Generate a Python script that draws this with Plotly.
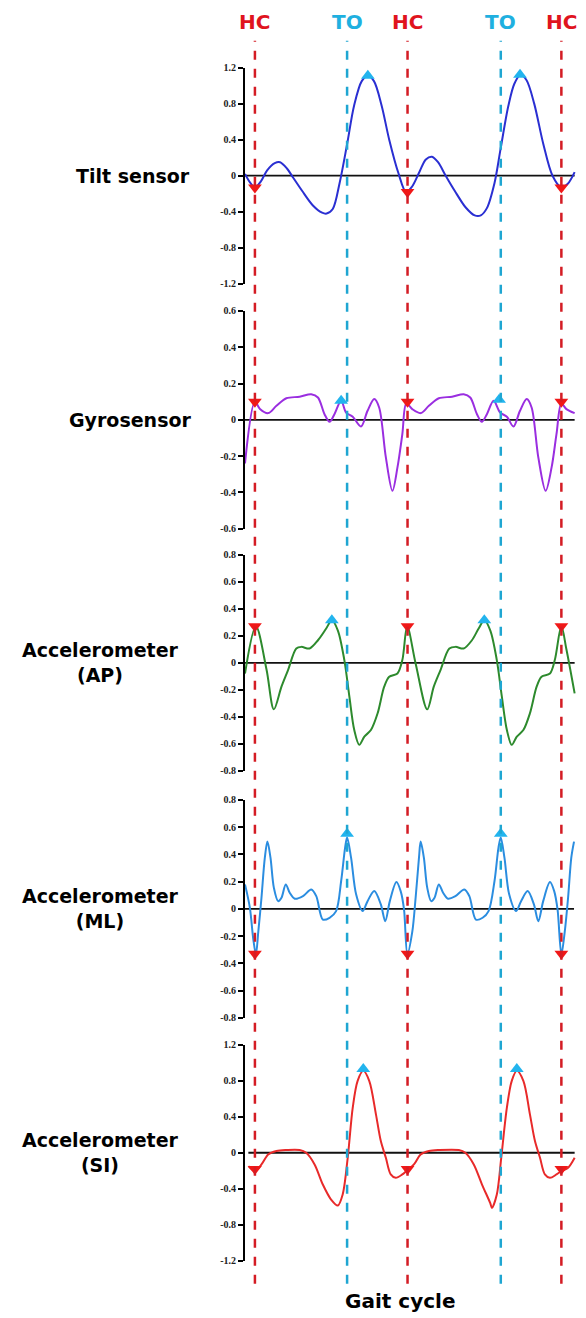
import plotly.graph_objects as go

# ---------------- data ----------------
hc_times = [0, 100, 200.8]
to_times = [60.4, 161.1]

tilt_x = [-6.5, -3, 0, 4, 8, 13, 16.5, 21, 25, 31, 38, 44, 47, 51, 55.5, 60.4, 65, 70, 74, 78, 83, 88, 94, 99,
          103, 108, 112, 116, 120, 125, 131, 138, 144, 148, 152, 157, 161, 166, 170, 174, 178, 183, 189, 195,
          200.8, 205, 209.5]
tilt_y = [0.02, -0.08, -0.13, -0.06, 0.06, 0.14, 0.15, 0.08, -0.02, -0.17, -0.33, -0.41, -0.42, -0.37, -0.08,
          0.35, 0.78, 1.05, 1.11, 1.05, 0.78, 0.40, 0.03, -0.18,
          -0.12, 0.05, 0.18, 0.21, 0.15, 0.0, -0.17, -0.35, -0.44, -0.44, -0.36, -0.08, 0.30, 0.77, 1.02, 1.12,
          1.06, 0.80, 0.35, 0.0, -0.13, -0.09, 0.04]

gyro_x = [-6.5, 0, 3.3, 8.7, 14.1, 20.6, 29.3, 36.9, 41.3, 45.6, 48.9, 52.1, 56.5, 59.7, 64.1, 69.5, 73.8,
          78.2, 81.4, 85.8, 90.1, 93.4, 96.6, 99.2, 103.1, 108.6, 114.0, 120.5, 129.2, 136.8, 141.1, 145.5,
          148.7, 152.0, 156.4, 160.7, 165.1, 169.4, 173.7, 178.1, 181.3, 185.7, 190.5, 194.4, 197.6, 200.8,
          204.1, 209.5]
gyro_y = [-0.24, 0.10, 0.06, 0.037, 0.077, 0.119, 0.127, 0.141, 0.123, 0.031, -0.011, 0.031, 0.105, 0.040,
          0.017, -0.037, 0.050, 0.114, 0.068, -0.207, -0.391, -0.262, -0.079, 0.09, 0.059, 0.037, 0.077,
          0.119, 0.127, 0.141, 0.123, 0.031, -0.011, 0.031, 0.105, 0.040, 0.017, -0.037, 0.050, 0.114, 0.068,
          -0.207, -0.391, -0.262, -0.079, 0.09, 0.059, 0.037]

ap_x = [-6.5, 0.65, 7.6, 12.4, 17.4, 21.7, 27.1, 30.4, 35.8, 41.3, 46.7, 50.4, 54.3, 58.6, 61.9, 65.1, 68.4,
        71.7, 76.0, 80.4, 84.7, 88.0, 93.4, 96.6, 99.8, 105.3, 112.9, 117.2, 121.6, 127.4, 131.4, 136.8,
        142.2, 146.6, 150.3, 154.2, 158.5, 161.8, 165.1, 168.3, 171.6, 175.9, 180.2, 184.6, 187.8, 193.3,
        196.5, 200.8, 204.1, 209.5]
ap_y = [-0.08, 0.27, -0.05, -0.345, -0.177, -0.054, 0.106, 0.118, 0.106, 0.167, 0.254, 0.315, 0.241, 0.020,
        -0.251, -0.498, -0.608, -0.547, -0.498, -0.374, -0.177, -0.103, -0.079, 0.02, 0.27, -0.005, -0.345,
        -0.177, -0.054, 0.106, 0.118, 0.106, 0.167, 0.254, 0.315, 0.241, 0.020, -0.251, -0.498, -0.608,
        -0.547, -0.498, -0.374, -0.177, -0.103, -0.079, 0.02, 0.27, 0.10, -0.227]

ml_x = [-6.5, -3.3, -1.1, 0.65, 2.2, 4.3, 6.5, 8.2, 10.2, 12.4, 15.2, 17.4, 20.2, 22.8, 26.1, 31.5, 36.9,
        40.2, 44.5, 48.9, 53.2, 56.5, 59.1, 60.4, 63.0, 66.3, 70.6, 73.8, 78.2, 82.5, 85.4, 88.4, 92.7,
        95.5, 97.7, 99.9, 103.1, 105.3, 107.5, 108.6, 110.7, 112.9, 115.5, 117.7, 120.5, 123.3, 126.6,
        131.4, 137.2, 140.5, 144.8, 149.2, 153.1, 157.0, 159.6, 161.1, 163.5, 166.6, 171.1, 174.4, 178.7,
        182.8, 185.7, 188.9, 193.3, 196.1, 198.3, 200.8, 203.0, 205.2, 207.3, 209.1]
ml_y = [0.179, 0.007, -0.22, -0.335, -0.17, 0.081, 0.375, 0.493, 0.375, 0.155, 0.056, 0.081, 0.179, 0.118,
        0.074, 0.093, 0.142, 0.093, -0.079, -0.066, -0.017, 0.204, 0.449, 0.523, 0.375, 0.106, -0.017, 0.056,
        0.130, 0.032, -0.091, 0.056, 0.196, 0.130, -0.005, -0.335, -0.17, 0.081, 0.375, 0.493, 0.375, 0.155,
        0.056, 0.081, 0.179, 0.118, 0.074, 0.093, 0.142, 0.093, -0.079, -0.066, -0.017, 0.204, 0.449, 0.523,
        0.375, 0.106, -0.017, 0.056, 0.130, 0.032, -0.091, 0.056, 0.196, 0.130, -0.005, -0.335, -0.17,
        0.081, 0.375, 0.493]

si_x = [-4.3, 0, 4.3, 8.7, 14.1, 20.6, 29.3, 33.6, 39.1, 44.5, 49.9, 54.3, 57.5, 60.8, 64.1, 67.3, 71.0, 74.9,
        79.3, 82.5, 85.8, 89.0, 92.3, 96.6, 99.2, 104.2, 108.6, 114.0, 120.5, 133.6, 137.9, 143.4, 148.8,
        154.2, 155.3, 158.5, 161.4, 165.1, 168.3, 171.6, 175.9, 180.2, 183.5, 186.8, 190.0, 193.3, 197.6,
        200.8, 205.2, 209.5]
si_y = [-0.149, -0.204, -0.130, -0.019, 0.019, 0.030, 0.030, 0.0, -0.130, -0.353, -0.520, -0.587, -0.464,
        -0.056, 0.501, 0.799, 0.910, 0.799, 0.427, 0.130, -0.056, -0.241, -0.279, -0.241, -0.204, -0.130,
        -0.019, 0.019, 0.030, 0.030, 0.0, -0.130, -0.353, -0.560, -0.613, -0.464, -0.056, 0.501, 0.799, 0.910,
        0.799, 0.427, 0.130, -0.056, -0.241, -0.279, -0.241, -0.204, -0.167, -0.056]

# event markers (value on curve at HC; peak location/value near TO)
tilt_hc = [-0.13, -0.18, -0.13]
tilt_to = ([74, 173.7], [1.11, 1.12])
gyro_hc = [0.10, 0.10, 0.10]
gyro_to = ([56.5, 160.0], [0.105, 0.11])
ap_hc = [0.27, 0.27, 0.27]
ap_to = ([50.4, 150.3], [0.315, 0.315])
ml_hc = [-0.33, -0.33, -0.33]
ml_to = ([60.4, 161.1], [0.55, 0.55])
si_hc = [-0.18, -0.18, -0.18]
si_to = ([71.0, 171.6], [0.93, 0.93])

panels = [
    dict(name="Tilt sensor", x=tilt_x, y=tilt_y, hc=tilt_hc, to=tilt_to, color="#2a2fd2",
         ticks=[1.2, 0.8, 0.4, 0, -0.4, -0.8, -1.2], lim=1.2),
    dict(name="Gyrosensor", x=gyro_x, y=gyro_y, hc=gyro_hc, to=gyro_to, color="#9a2ee0",
         ticks=[0.6, 0.4, 0.2, 0, -0.2, -0.4, -0.6], lim=0.6),
    dict(name="Accelerometer<br>(AP)", x=ap_x, y=ap_y, hc=ap_hc, to=ap_to, color="#2d8a2d",
         ticks=[0.8, 0.6, 0.4, 0.2, 0, -0.2, -0.4, -0.6, -0.8], lim=0.8),
    dict(name="Accelerometer<br>(ML)", x=ml_x, y=ml_y, hc=ml_hc, to=ml_to, color="#2b8de0",
         ticks=[0.8, 0.6, 0.4, 0.2, 0, -0.2, -0.4, -0.6, -0.8], lim=0.8),
    dict(name="Accelerometer<br>(SI)", x=si_x, y=si_y, hc=si_hc, to=si_to, color="#e82a2a",
         ticks=[1.2, 0.8, 0.4, 0, -0.4, -0.8, -1.2], lim=1.2),
]

# ---------------- layout geometry (target picture pixels) ----------------
OFF = 8                      # page body margin
W, H = 586 - 2 * OFF, 1318   # figure size
SCALE_Y, SHIFT_Y = 0.991, 5.2  # measured vertical mapping of page rows into the picture
tops = [66.7, 310, 554, 799, 1044]
bots = [283, 528, 770, 1017, 1260]
label_cx = [133, 130, 100, 100, 100]
x_left_px, x_right_px = 245, 580
x_range = [-6.5, 211.7]


def px_x(v):
    return (v - OFF) / W


def px_y(v):
    page = (v - SHIFT_Y) / SCALE_Y
    return 1 - (page - OFF) / H


HC_COLOR = "#d41c24"
TO_COLOR = "#1fa6d2"
LABEL_FONT = "DejaVu Sans"

fig = go.Figure()
layout = dict(width=W, height=H, margin=dict(l=0, r=0, t=0, b=0),
              paper_bgcolor="white", plot_bgcolor="white", showlegend=False)
shapes = []
annotations = []


def fmt(v):
    if v == 0:
        return "0"
    return ("-" if v < 0 else "") + f"{abs(v):.1f}"


for i, p in enumerate(panels):
    k = "" if i == 0 else str(i + 1)
    xa, ya = "x" + k, "y" + k
    layout["xaxis" + k] = dict(domain=[px_x(x_left_px), min(1, px_x(x_right_px))], range=x_range,
                               visible=False, anchor=ya, fixedrange=True)
    layout["yaxis" + k] = dict(domain=[px_y(bots[i]), px_y(tops[i])], range=[-p["lim"], p["lim"]],
                               anchor=xa, showgrid=False, zeroline=False, showline=True, linecolor="black",
                               linewidth=2, ticks="outside", ticklen=5, tickwidth=2, tickcolor="black",
                               tickvals=p["ticks"], ticktext=[fmt(v) for v in p["ticks"]],
                               tickfont=dict(family="Liberation Serif", size=10, color="#222", weight="bold"),
                               fixedrange=True)
    shapes.append(dict(type="line", xref=xa, yref=ya, x0=min(p["x"]), x1=max(p["x"]), y0=0, y1=0,
                       line=dict(color="#111", width=1.8), layer="below"))
    fig.add_trace(go.Scatter(x=p["x"], y=p["y"], xaxis=xa, yaxis=ya, mode="lines",
                             line=dict(color=p["color"], width=2, shape="spline", smoothing=0.9),
                             hoverinfo="skip"))
    fig.add_trace(go.Scatter(x=hc_times, y=p["hc"], xaxis=xa, yaxis=ya, mode="markers", cliponaxis=False,
                             marker=dict(symbol="triangle-down", size=12, color="#f01818")))
    fig.add_trace(go.Scatter(x=p["to"][0], y=p["to"][1], xaxis=xa, yaxis=ya, mode="markers",
                             cliponaxis=False,
                             marker=dict(symbol="triangle-up", size=12, color="#22b4ee")))
    annotations.append(dict(text=p["name"], xref="paper", yref=ya, x=px_x(label_cx[i]), y=0,
                            xanchor="center", yanchor="middle", showarrow=False,
                            font=dict(family=LABEL_FONT, size=19, color="black", weight="bold")))

y0_line, y1_line = px_y(1283), px_y(40)
for t in hc_times:
    shapes.append(dict(type="line", xref="x", yref="paper", x0=t, x1=t, y0=y0_line, y1=y1_line,
                       line=dict(color=HC_COLOR, width=2.5, dash="dash"), layer="above"))
    annotations.append(dict(text="HC", xref="x", yref="paper", x=t, y=px_y(21), showarrow=False,
                            xanchor="center", yanchor="middle",
                            font=dict(family=LABEL_FONT, size=20, color="#e0141e", weight="bold")))
for t in to_times:
    shapes.append(dict(type="line", xref="x", yref="paper", x0=t, x1=t, y0=y0_line, y1=y1_line,
                       line=dict(color=TO_COLOR, width=2.5, dash="dash"), layer="above"))
    annotations.append(dict(text="TO", xref="x", yref="paper", x=t, y=px_y(21), showarrow=False,
                            xanchor="center", yanchor="middle",
                            font=dict(family=LABEL_FONT, size=20, color="#1fb0e0", weight="bold")))

annotations.append(dict(text="Gait cycle", xref="paper", yref="paper", x=px_x(400), y=px_y(1300),
                        showarrow=False, xanchor="center", yanchor="middle",
                        font=dict(family=LABEL_FONT, size=20, color="black", weight="bold")))

layout["shapes"] = shapes
layout["annotations"] = annotations
fig.update_layout(**layout)
fig.write_html("out.html")
